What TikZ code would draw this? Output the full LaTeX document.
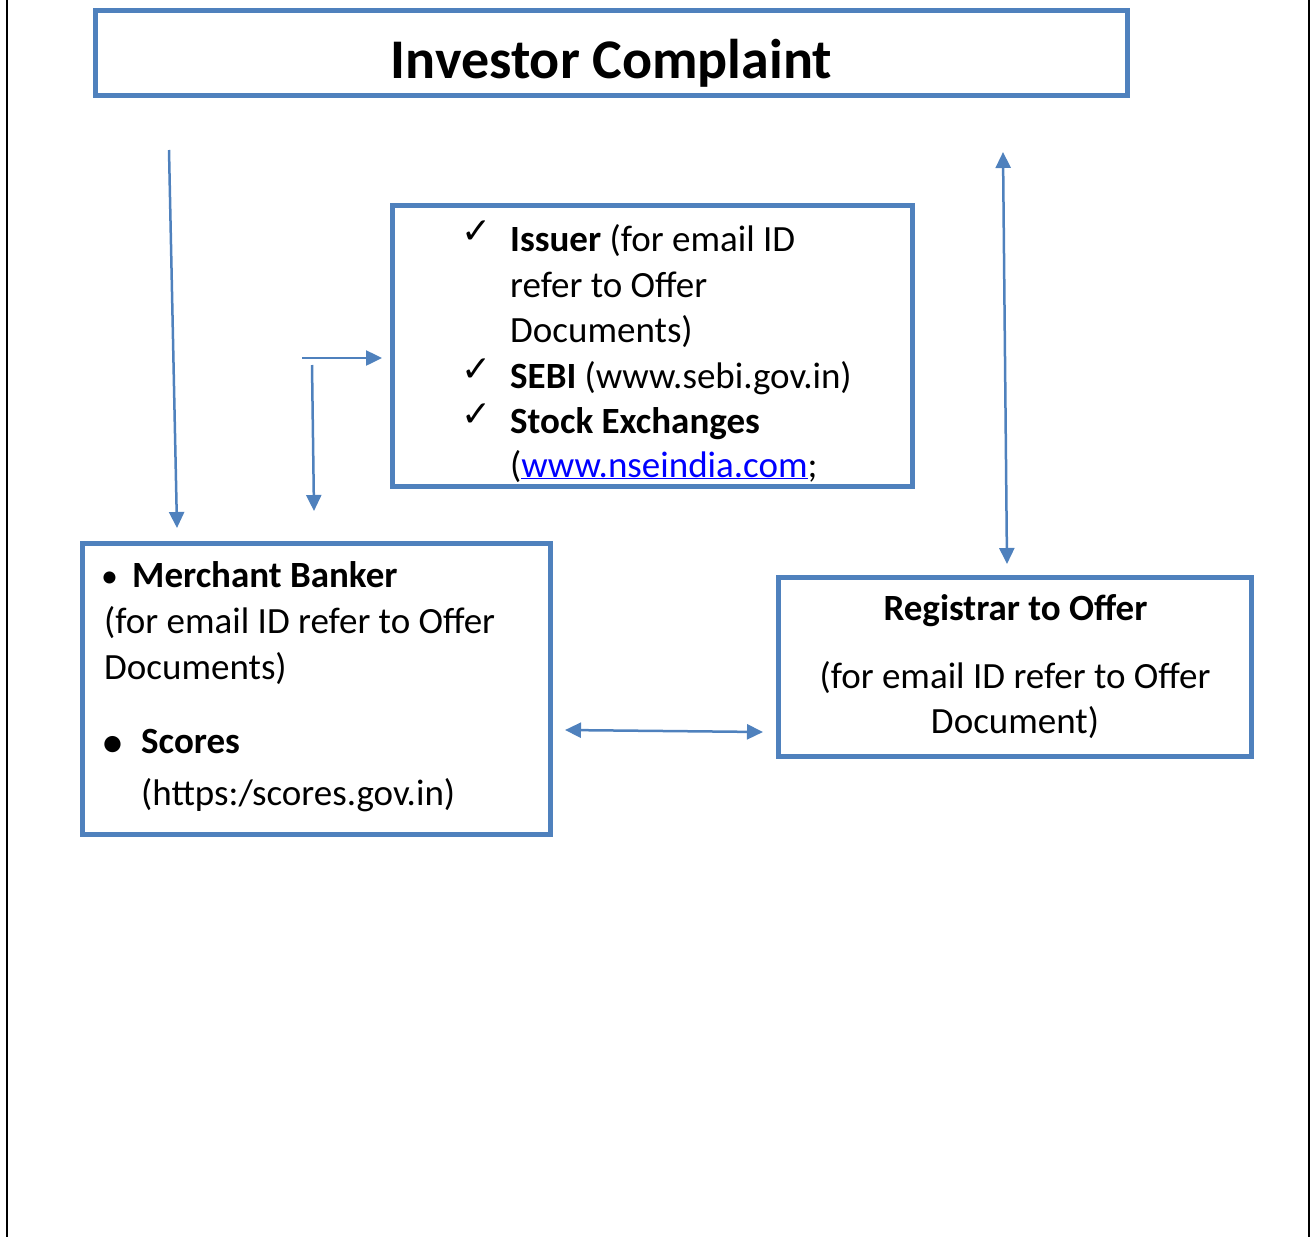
\documentclass[tikz,border=0pt]{standalone}
\usepackage{fontspec}
\setmainfont{Carlito}
\newfontfamily\tickfont{DejaVu Sans}
\usetikzlibrary{arrows.meta}
\definecolor{boxblue}{HTML}{4F81BD}
\definecolor{linkblue}{HTML}{0000FF}
\newcommand{\tickmark}{{\tickfont\fontsize{36}{36}\selectfont ✓}}
\newcommand{\weblink}[1]{{\color{linkblue}\underline{#1}}}

\begin{document}
\begin{tikzpicture}[x=1pt,y=-1pt,
    >={Triangle[length=16pt,width=15pt]},
    box/.style={draw=boxblue,line width=5pt,inner sep=0pt},
    conn/.style={draw=boxblue,line width=2.5pt},
    txt/.style={anchor=base west,inner sep=0pt,font=\fontsize{37}{45}\selectfont},
    midtxt/.style={anchor=base,inner sep=0pt,font=\fontsize{37}{45}\selectfont}]
    \useasboundingbox (0,0) rectangle (1316,1237);

    % page frame
    \draw[line width=2pt] (7,0) -- (7,1237);
    \draw[line width=2pt] (1309,0) -- (1309,1237);

    % boxes
    \node[box,minimum width=1032pt,minimum height=85pt] (title) at (611.5,53) {};
    \node[box,minimum width=520pt,minimum height=281pt] (issuer) at (652.5,346) {};
    \node[box,minimum width=468pt,minimum height=291pt] (merchant) at (316.5,689) {};
    \node[box,minimum width=473pt,minimum height=179pt] (registrar) at (1015,667) {};

    \node[anchor=base,inner sep=0pt,font=\fontsize{56}{60}\selectfont\bfseries] (titletext) at (611.5,78) {Investor Complaint};

    % issuer list
    \node[anchor=base west,inner sep=0pt] (tick1) at (461,243) {\tickmark};
    \node[txt] (iss1) at (510,251) {\textbf{Issuer} (for email ID};
    \node[txt] (iss2) at (510,297) {refer to Offer};
    \node[txt] (iss3) at (510,342) {Documents)};
    \node[anchor=base west,inner sep=0pt] (tick2) at (461,381) {\tickmark};
    \node[txt] (sebi) at (510,388) {\textbf{SEBI} (www.sebi.gov.in)};
    \node[anchor=base west,inner sep=0pt] (tick3) at (461,426) {\tickmark};
    \node[txt] (stock1) at (510,433) {\textbf{Stock Exchanges}};
    \node[txt] (stock2) at (510,477) {(\weblink{www.nseindia.com};};

    % merchant banker
    \node[anchor=base west,inner sep=0pt,font=\fontsize{34}{34}\selectfont] (bul1) at (101,587) {\textbullet};
    \node[txt] (mb1) at (132,587) {\textbf{Merchant Banker}};
    \node[txt] (mb2) at (104,633) {(for email ID refer to Offer};
    \node[txt] (mb3) at (104,679) {Documents)};
    \node[anchor=base west,inner sep=0pt,font=\fontsize{46}{46}\selectfont] (bul2) at (101,757) {\textbullet};
    \node[txt] (sc1) at (141,753) {\textbf{Scores}};
    \node[txt] (sc2) at (141,805) {(https:/scores.gov.in)};

    % registrar
    \node[midtxt] (reg1) at (1015.5,620) {\textbf{Registrar to Offer}};
    \node[midtxt] (reg2) at (1015,688) {(for email ID refer to Offer};
    \node[midtxt] (reg3) at (1015,733) {Document)};

    % connectors
    \coordinate (a1) at (169,150);
    \coordinate (a2) at (177,528);
    \coordinate (b1) at (302,358);
    \coordinate (b2) at (382,358);
    \coordinate (b3) at (312,365);
    \coordinate (b4) at (314,511);
    \coordinate (r1) at (1003,152);
    \coordinate (r2) at (1007,564);
    \coordinate (m1) at (565,730);
    \coordinate (m2) at (763,732);

    \draw[conn,->] (a1) -- (a2);
    \draw[conn,->] (b1) -- (b2);
    \draw[conn,->] (b3) -- (b4);
    \draw[conn,<->] (r1) -- (r2);
    \draw[conn,<->] (m1) -- (m2);
\end{tikzpicture}
\end{document}
